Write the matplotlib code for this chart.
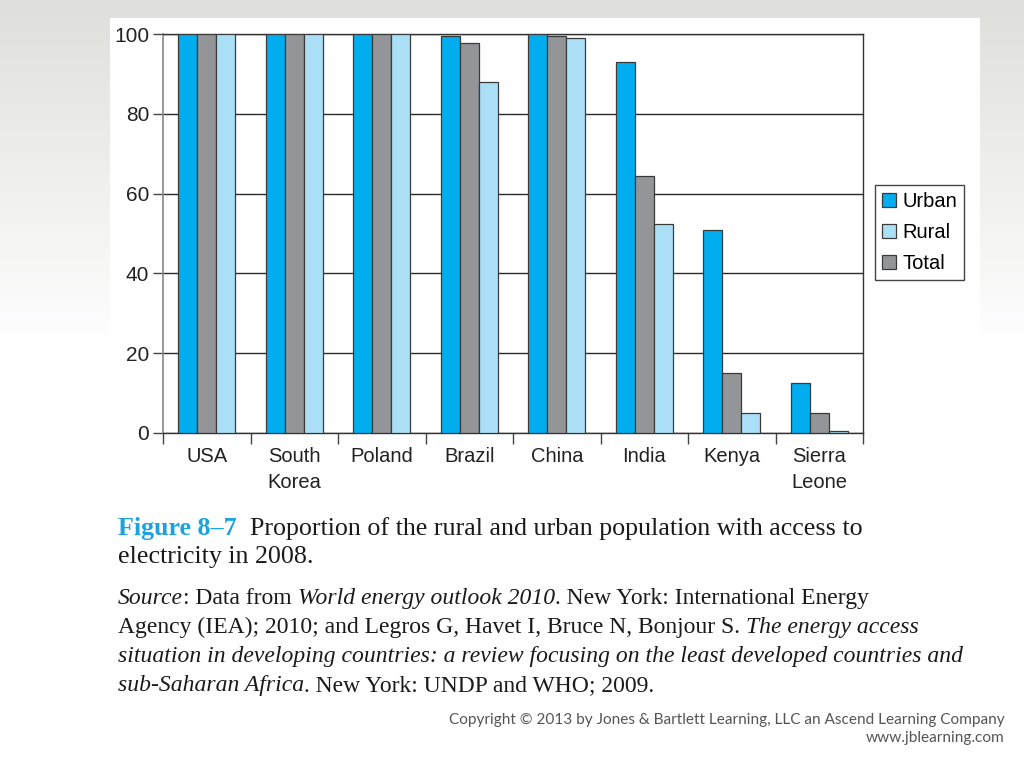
import numpy as np
import matplotlib
matplotlib.use("Agg")
import matplotlib.pyplot as plt
from matplotlib.ticker import FixedLocator, NullFormatter

countries = ["USA", "South\nKorea", "Poland", "Brazil", "China", "India", "Kenya", "Sierra\nLeone"]
urban = [100, 100, 100, 99.5, 100, 93, 51, 12.5]
total = [100, 100, 100, 97.8, 99.4, 64.5, 15, 5]
rural = [100, 100, 100, 88, 99, 52.5, 5, 0.5]
yticks = [0, 20, 40, 60, 80, 100]

c_urban = "#00aeef"
c_total = "#939598"
c_rural = "#abdff6"
edge = "#3a3a3a"

W, H = 1024, 768
fig = plt.figure(figsize=(W / 100, H / 100), dpi=100)

# slide background: light gray fading to white, with a white panel
bg = fig.add_axes([0, 0, 1, 1], zorder=-10)
yy = np.linspace(0, 1, 200)[:, None]
xx = np.linspace(0, 1, 200)[None, :]
shade = np.clip(1 - yy / 0.45, 0, 1) * 0.14 + 0.0 * xx
img = np.ones((200, 200, 3)) - shade[..., None] * np.array([1.0, 1.0, 1.1])[None, None, :] * 0.9
bg.imshow(img, extent=[0, W, H, 0], aspect="auto")
bg.add_patch(plt.Rectangle((110, 18), 870, H - 18, color="white", lw=0))
bg.set_xlim(0, W)
bg.set_ylim(H, 0)
bg.axis("off")

ax_l, ax_r, ax_t, ax_b = 163, 863, 34, 433
ax = fig.add_axes([ax_l / W, 1 - ax_b / H, (ax_r - ax_l) / W, (ax_b - ax_t) / H])

x = np.arange(len(countries))
bw = 0.218
ax.bar(x - bw, urban, bw, color=c_urban, edgecolor=edge, lw=0.9, label="Urban", zorder=3)
ax.bar(x, total, bw, color=c_total, edgecolor=edge, lw=0.9, label="Total", zorder=3)
ax.bar(x + bw, rural, bw, color=c_rural, edgecolor=edge, lw=0.9, label="Rural", zorder=3)

ax.set_xlim(-0.5, len(countries) - 0.5)
ax.set_ylim(0, 100)
ax.set_yticks(yticks)
ax.set_yticklabels([str(v) for v in yticks], fontsize=15, family="Liberation Sans", color="#222")
ax.yaxis.grid(True, color="#2a2a2a", lw=1.0, zorder=1)
ax.tick_params(axis="y", direction="out", length=7, width=1, color="#444", pad=3)

ax.set_xticks(x)
ax.set_xticklabels(countries, fontsize=14.5, family="Liberation Sans", color="#222", linespacing=1.45)
ax.tick_params(axis="x", which="major", length=0, pad=10)
ax.xaxis.set_minor_locator(FixedLocator(np.arange(-0.5, len(countries), 1.0)))
ax.xaxis.set_minor_formatter(NullFormatter())
ax.tick_params(axis="x", which="minor", direction="out", length=8, width=1, color="#444")

for s in ["top", "right", "bottom"]:
    ax.spines[s].set_color("#333")
    ax.spines[s].set_linewidth(1.0)
ax.spines["left"].set_color("#888")
ax.spines["left"].set_linewidth(1.2)

handles, labels = ax.get_legend_handles_labels()
order = [0, 2, 1]
leg = ax.legend([handles[i] for i in order], [labels[i] for i in order],
                loc="upper left", bbox_to_anchor=((875 - ax_l) / (ax_r - ax_l), (ax_b - 185) / (ax_b - ax_t)),
                frameon=True, fancybox=False, edgecolor="#444", framealpha=1,
                prop={"family": "Liberation Sans", "size": 14.5},
                handlelength=0.7, handleheight=0.7, handletextpad=0.3,
                borderpad=0.35, labelspacing=0.6, borderaxespad=0)
leg.get_frame().set_linewidth(1.0)

# ---- caption and source text, mixed styles ----
fig.canvas.draw()
renderer = fig.canvas.get_renderer()
serif = "Liberation Serif"


def text_width(s, size, style, weight):
    t = fig.text(0, 0, s, fontsize=size, family=serif, style=style, weight=weight)
    w = t.get_window_extent(renderer).width
    t.remove()
    return w


def draw_line(x0, ybase, segments, size):
    xcur = x0
    for txt, style, weight, color in segments:
        if txt.startswith(" "):
            n = len(txt) - len(txt.lstrip(" "))
            sp = text_width("x x", size, style, weight) - text_width("xx", size, style, weight)
            xcur += sp * n
            txt = txt.lstrip(" ")
        t = fig.text(xcur / W, 1 - ybase / H, txt, fontsize=size, family=serif,
                     style=style, weight=weight, color=color, va="baseline", ha="left")
        xcur += t.get_window_extent(renderer).width


blue = "#1aa3dd"
dark = "#1a1a1a"
cap = 18.7
draw_line(118, 535, [("Figure 8–7", "normal", "bold", blue),
                     ("  Proportion of the rural and urban population with access to", "normal", "normal", dark)], cap)
draw_line(118, 563, [("electricity in 2008.", "normal", "normal", dark)], cap)

src = 17
draw_line(118, 604, [("Source", "italic", "normal", dark),
                     (": Data from", "normal", "normal", dark),
                     (" World energy outlook 2010", "italic", "normal", dark),
                     (". New York: International Energy", "normal", "normal", dark)], src)
draw_line(118, 633, [("Agency (IEA); 2010; and Legros G, Havet I, Bruce N, Bonjour S.", "normal", "normal", dark),
                     (" The energy access", "italic", "normal", dark)], src)
draw_line(118, 662, [("situation in developing countries: a review focusing on the least developed countries and",
                      "italic", "normal", dark)], src)
draw_line(118, 691, [("sub-Saharan Africa", "italic", "normal", dark),
                     (". New York: UNDP and WHO; 2009.", "normal", "normal", dark)], src)

fig.text(1005 / W, 1 - 720 / H, "Copyright © 2013 by Jones & Bartlett Learning, LLC an Ascend Learning Company",
         fontsize=11.1, family="Lato", color="#555", ha="right", va="center")
fig.text(1005 / W, 1 - 738 / H, "www.jblearning.com",
         fontsize=11.1, family="Lato", color="#555", ha="right", va="center")

fig.savefig("out.png", dpi=100)
